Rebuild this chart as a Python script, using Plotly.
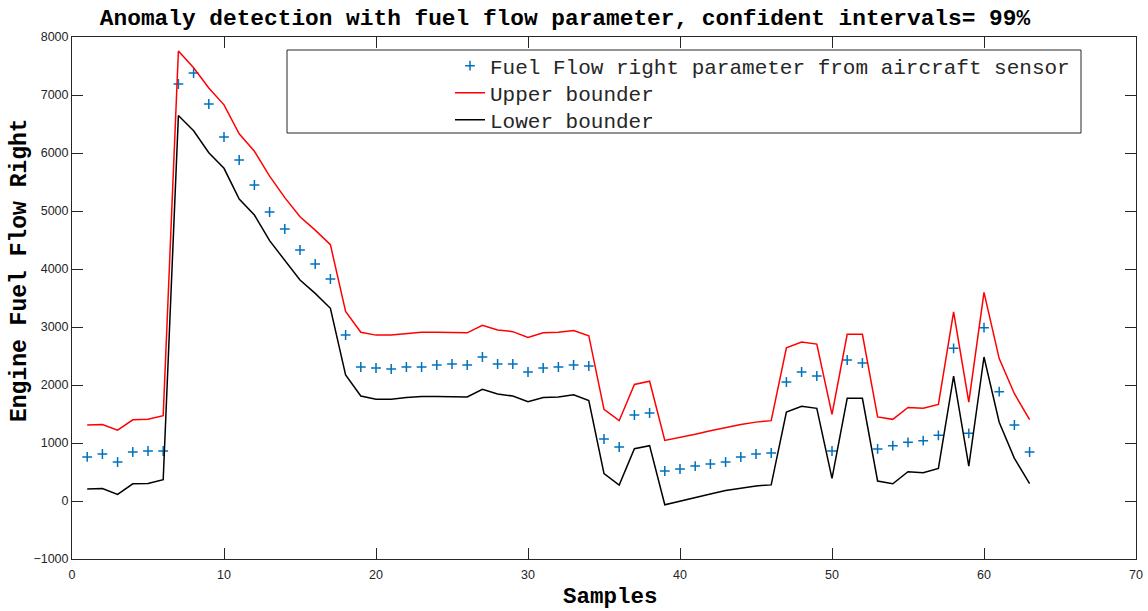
import plotly.graph_objects as go

samples = list(range(1, 64))

fuel_flow = [760, 810, 672, 845, 862, 862, 7190, 7379, 6845, 6276,
             5879, 5448, 4983, 4690, 4328, 4086, 3828, 2862, 2310, 2293,
             2276, 2310, 2310, 2345, 2362, 2345, 2483, 2362, 2362, 2224,
             2293, 2310, 2345, 2328, 1069, 931, 1483, 1517, 517, 552,
             603, 638, 672, 759, 810, 828, 2052, 2224, 2155, 862,
             2431, 2379, 897, 954, 1012, 1040, 1132, 2632, 1167, 2988,
             1885, 1310, 845]

upper = [1310, 1320, 1220, 1400, 1410, 1470, 7760, 7470, 7120, 6830,
         6330, 6030, 5600, 5230, 4900, 4670, 4420, 3270, 2910, 2860,
         2860, 2890, 2910, 2910, 2900, 2900, 3030, 2950, 2920, 2820,
         2900, 2910, 2940, 2850, 1580, 1385, 2010, 2065, 1045, 1095,
         1150, 1210, 1265, 1320, 1360, 1385, 2640, 2740, 2705, 1495,
         2875, 2875, 1450, 1408, 1612, 1598, 1665, 3262, 1705, 3598,
         2455, 1850, 1402]

lower = [205, 216, 113, 296, 303, 367, 6645, 6384, 6005, 5736,
         5207, 4931, 4488, 4155, 3810, 3580, 3322, 2172, 1810, 1753,
         1753, 1785, 1800, 1800, 1793, 1793, 1925, 1845, 1810, 1712,
         1785, 1793, 1833, 1730, 471, 276, 902, 954, -65, 0,
         60, 120, 180, 225, 260, 278, 1534, 1632, 1598, 391,
         1770, 1770, 345, 298, 505, 488, 563, 2155, 603, 2483,
         1357, 736, 298]

x_ticks = [0, 10, 20, 30, 40, 50, 60, 70]
y_ticks = [-1000, 0, 1000, 2000, 3000, 4000, 5000, 6000, 7000, 8000]

title_text = "Anomaly detection with fuel flow parameter, confident intervals= 99%"
x_label = "Samples"
y_label = "Engine Fuel Flow Right"
names = ["Fuel Flow right parameter from aircraft sensor", "Upper bounder", "Lower bounder"]

mono = "Courier New, Liberation Mono, monospace"
axis_color = "#262626"

# plot-area geometry (pixels)
L, R, T, B = 72, 1136, 37, 559
W, H = 1148, 611
PW, PH = R - L, B - T


def px(x):
    return (x - L) / PW


def py(y):
    return (B - y) / PH


fig = go.Figure()
fig.add_trace(go.Scatter(
    x=samples, y=fuel_flow, mode="markers", name=names[0], legend="legend",
    marker=dict(symbol="cross-thin", size=7, color="#0072BD",
                line=dict(width=1.5, color="#0072BD")),
))
fig.add_trace(go.Scatter(
    x=samples, y=upper, mode="lines", name=names[1], legend="legend2",
    line=dict(color="#FF0000", width=1.5),
))
fig.add_trace(go.Scatter(
    x=samples, y=lower, mode="lines", name=names[2], legend="legend3",
    line=dict(color="#000000", width=1.5),
))

axis_common = dict(
    showline=True, linecolor=axis_color, linewidth=1, mirror="ticks",
    ticks="inside", ticklen=11, tickcolor=axis_color, tickwidth=1,
    showgrid=False, zeroline=False, automargin=False,
    tickfont=dict(family="Liberation Sans, Arial, sans-serif", size=12.5, color="#262626"),
)

fig.update_xaxes(range=[0, 70], tickvals=x_ticks, ticklabelstandoff=4, **axis_common)
fig.update_yaxes(range=[-1000, 8000], tickvals=y_ticks, **axis_common)

# legend frame
fig.add_shape(type="rect", xref="paper", yref="paper",
              x0=px(287), x1=px(1081), y0=py(133), y1=py(50),
              line=dict(color=axis_color, width=1), fillcolor="white", layer="below")

# axis labels
fig.add_annotation(text=x_label, xref="paper", yref="paper", x=px(610), y=py(597),
                   xanchor="center", yanchor="middle", showarrow=False,
                   font=dict(family=mono, size=22.5, color="#000000", weight="bold"))
fig.add_annotation(text=y_label, xref="paper", yref="paper", x=px(20), y=py(270),
                   xanchor="center", yanchor="middle", showarrow=False, textangle=-90,
                   font=dict(family=mono, size=23, color="#000000", weight="bold"))

leg_font = dict(family=mono, size=21, color="#262626")
leg_common = dict(xanchor="left", yanchor="middle", bgcolor="rgba(0,0,0,0)",
                  borderwidth=0, font=leg_font, itemwidth=30)

fig.update_layout(
    width=W, height=611,
    margin=dict(l=L, r=W - R, t=T, b=H - B),
    paper_bgcolor="white", plot_bgcolor="white",
    title=dict(text=title_text, x=565 / W, xanchor="center", xref="container",
               y=1 - 17 / H, yanchor="middle", yref="container",
               font=dict(family=mono, size=22.8, color="#000000", weight="bold")),
    showlegend=True,
    legend=dict(x=px(450), y=py(66), **leg_common),
    legend2=dict(x=px(450), y=py(93), **leg_common),
    legend3=dict(x=px(450), y=py(120), **leg_common),
)

fig.write_html("out.html")
